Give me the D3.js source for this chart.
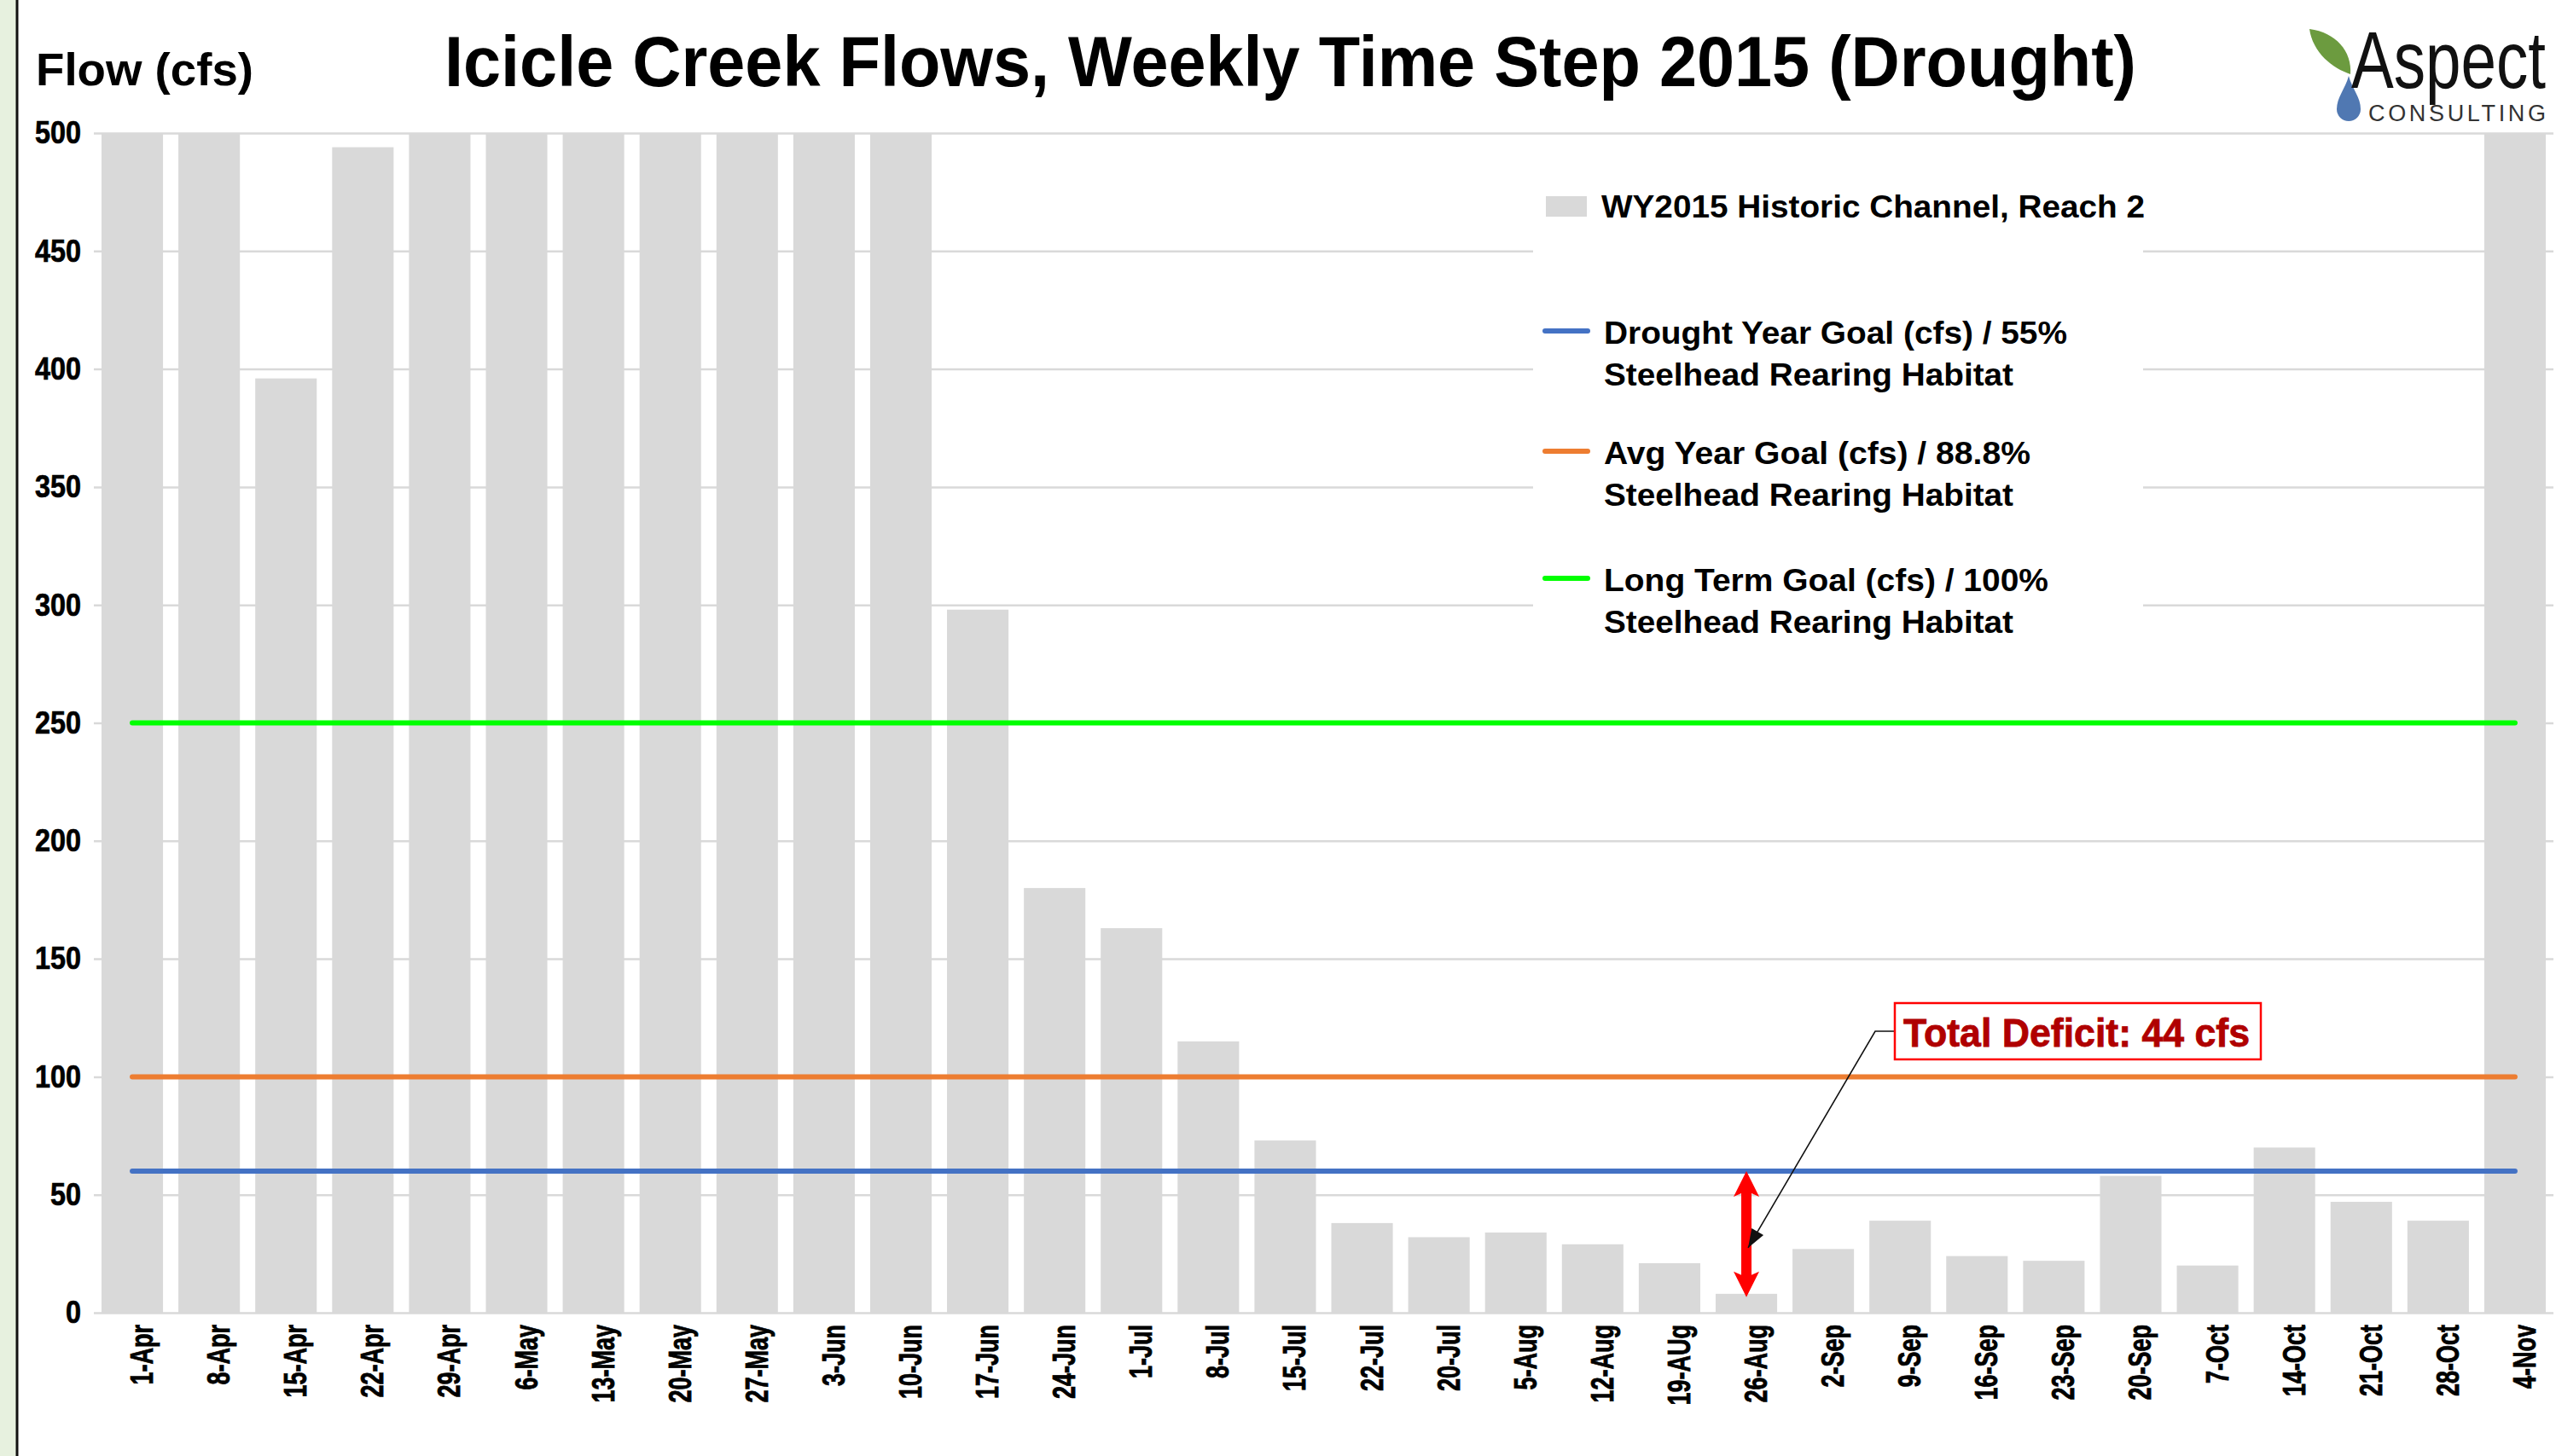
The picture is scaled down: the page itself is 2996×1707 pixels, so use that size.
<!DOCTYPE html>
<html>
<head>
<meta charset="utf-8">
<script src="https://cdn.jsdelivr.net/npm/d3@7"></script>
<style>
  html, body { margin: 0; padding: 0; background: #fff; }
  svg { display: block; }
  text { font-family: "Liberation Sans", Arial, sans-serif; }
</style>
</head>
<body>
<div id="chart"></div>
<script>
/* Icicle Creek weekly flows, WY2015 drought */

const width = 2996,
    height = 1707,
    margin = ({ top: 156, right: 3, bottom: 168, left: 110 });

/* week labels, as printed on the chart */
const weeks = ["1-Apr", "8-Apr", "15-Apr", "22-Apr", "29-Apr", "6-May", "13-May", "20-May",
    "27-May", "3-Jun", "10-Jun", "17-Jun", "24-Jun", "1-Jul", "8-Jul", "15-Jul",
    "22-Jul", "20-Jul", "5-Aug", "12-Aug", "19-AUg", "26-Aug", "2-Sep", "9-Sep",
    "16-Sep", "23-Sep", "20-Sep", "7-Oct", "14-Oct", "21-Oct", "28-Oct", "4-Nov"];

/* weekly flow (cfs) - bars that run off the top of the chart are kept at 500 */
const flows = [500, 500, 396, 494, 500, 500, 500, 500,
    500, 500, 500, 298, 180, 163, 115, 73,
    38, 32, 34, 29, 21, 8, 27, 39,
    24, 22, 58, 20, 70, 47, 39, 500];

/* goal lines (cfs) */
const goalValues = [60, 100, 250];
const goalLabels = [
    ["Drought Year Goal (cfs) / 55%", "Steelhead Rearing Habitat"],
    ["Avg Year Goal (cfs) / 88.8%", "Steelhead Rearing Habitat"],
    ["Long Term Goal (cfs) / 100%", "Steelhead Rearing Habitat"]
];
const barLabel = "WY2015 Historic Channel, Reach 2";

/* y tick labels */
const yTicks = [0, 50, 100, 150, 200, 250, 300, 350, 400, 450, 500];

/* deficit callout week */
const deficitWeek = "26-Aug";
const deficitText = "Total Deficit: 44 cfs";

/* colours */
const goalColors = ["#4472c4", "#ed7d31", "#00ff00"];
const barColor = "#d9d9d9";

const svg = d3.select("#chart")
    .append("svg")
    .attr("width", width)
    .attr("height", height)
    .attr("viewBox", [0, 0, width, height]);

svg.append("rect").attr("width", width).attr("height", height).attr("fill", "#fff");

/* green slide edge + black rule on the left */
svg.append("rect").attr("x", 0).attr("y", 0).attr("width", 19).attr("height", height).attr("fill", "#e7f1df");
svg.append("line").attr("x1", 20).attr("x2", 20).attr("y1", 0).attr("y2", height)
    .attr("stroke", "#111").attr("stroke-width", 3);

let x = d3.scaleBand()
    .domain(weeks)
    .range([margin.left, width - margin.right])
    .paddingInner(0.2)
    .paddingOuter(0.1);

let y = d3.scaleLinear()
    .domain([0, 500])
    .range([height - margin.bottom, margin.top])
    .clamp(true);

/* gridlines + y labels */
svg.append("g")
    .attr("class", "y-axis")
    .attr("transform", `translate(${margin.left},0)`)
    .call(d3.axisLeft(y).tickValues(yTicks).tickSize(-(width - margin.right - margin.left)).tickPadding(15))
    .call(g => g.select(".domain").remove())
    .call(g => g.selectAll(".tick line").attr("stroke", "#d9d9d9").attr("stroke-width", 2.5))
    .call(g => g.selectAll(".tick text")
        .attr("font-size", 37)
        .attr("font-weight", "bold")
        .attr("fill", "#000")
        .attr("stroke", "#000").attr("stroke-width", 0.7)
        .attr("textLength", d => String(d).length * 18)
        .attr("lengthAdjust", "spacingAndGlyphs"));

/* legend background knocks out the gridlines */
svg.append("rect")
    .attr("x", 1797).attr("y", 185)
    .attr("width", 715).attr("height", 590)
    .attr("fill", "#fff");

/* bars */
svg.append("g")
    .selectAll("rect")
    .data(weeks)
    .join("rect")
    .attr("x", d => x(d))
    .attr("width", x.bandwidth())
    .attr("y", (d, i) => y(flows[i]))
    .attr("height", (d, i) => y(0) - y(flows[i]))
    .attr("fill", barColor);

/* x labels */
svg.append("g")
    .attr("transform", `translate(0,${height - margin.bottom})`)
    .call(d3.axisBottom(x).tickSize(0).tickSizeOuter(0))
    .call(g => g.select(".domain").remove())
    .call(g => g.selectAll(".tick text")
        .attr("x", 0).attr("y", 0).attr("dy", 0)
        .attr("text-anchor", "end")
        .attr("transform", "translate(24,14) scale(1.4,1) rotate(-90)")
        .attr("font-size", 27)
        .attr("font-weight", "bold")
        .attr("fill", "#000")
        .attr("stroke", "#000").attr("stroke-width", 0.6));

/* goal lines run from first to last week centre */
goalValues.forEach((v, i) => {
    svg.append("path")
        .datum([weeks[0], weeks[weeks.length - 1]])
        .attr("d", d3.line()
            .x(d => x(d) + x.bandwidth() / 2)
            .y(() => y(v)))
        .attr("fill", "none")
        .attr("stroke", goalColors[i])
        .attr("stroke-width", 6)
        .attr("stroke-linecap", "round");
});

/* legend */
const legend = svg.append("g").attr("class", "legend")
    .attr("font-family", "'Open Sans', 'Liberation Sans', sans-serif")
    .attr("font-weight", 600)
    .attr("fill", "#000");
legend.append("rect")
    .attr("x", 1812).attr("y", 230).attr("width", 48).attr("height", 24)
    .attr("fill", barColor);
legend.append("text")
    .attr("x", 1877).attr("y", 255)
    .attr("font-size", 37)
    .attr("textLength", 637).attr("lengthAdjust", "spacingAndGlyphs")
    .text(barLabel);

const legendY = [388, 529, 678];
const legendW = [[543, 480], [500, 480], [521, 480]];
goalLabels.forEach((lines, i) => {
    legend.append("line")
        .attr("x1", 1811).attr("x2", 1861)
        .attr("y1", legendY[i]).attr("y2", legendY[i])
        .attr("stroke", goalColors[i]).attr("stroke-width", 6)
        .attr("stroke-linecap", "round");
    lines.forEach((t, j) => {
        legend.append("text")
            .attr("x", 1880).attr("y", legendY[i] + 15 + j * 49)
            .attr("font-size", 37)
            .attr("textLength", legendW[i][j]).attr("lengthAdjust", "spacingAndGlyphs")
            .text(t);
    });
});

/* red deficit arrow: drought goal down to the week's flow */
const di = weeks.indexOf(deficitWeek);
const ax = x(deficitWeek) + x.bandwidth() / 2;
const aTop = y(goalValues[0]);
const aBot = y(flows[di]) + 4;
const headL = 30, headW = 15, shaft = 6;
svg.append("path")
    .attr("d", `M${ax},${aTop} L${ax + headW},${aTop + headL} L${ax + shaft},${aTop + headL - 4}
        L${ax + shaft},${aBot - headL + 4} L${ax + headW},${aBot - headL} L${ax},${aBot}
        L${ax - headW},${aBot - headL} L${ax - shaft},${aBot - headL + 4}
        L${ax - shaft},${aTop + headL - 4} L${ax - headW},${aTop + headL} Z`)
    .attr("fill", "#ff0000");

/* callout box */
const box = { x: 2221, y: 1176, w: 429, h: 66 };
const tip = [ax + 2, (aTop + aBot) / 2 + 16];
const elbow = [box.x - 23, box.y + 33];
svg.append("path")
    .attr("d", `M${box.x},${elbow[1]} L${elbow[0]},${elbow[1]} L${tip[0]},${tip[1]}`)
    .attr("fill", "none")
    .attr("stroke", "#111")
    .attr("stroke-width", 1.6);
const ang = Math.atan2(tip[1] - elbow[1], tip[0] - elbow[0]);
const hl = 22, hw = 8;
const bx = tip[0] - hl * Math.cos(ang), by = tip[1] - hl * Math.sin(ang);
svg.append("path")
    .attr("d", `M${tip[0]},${tip[1]} L${bx + hw * Math.sin(ang)},${by - hw * Math.cos(ang)} L${bx - hw * Math.sin(ang)},${by + hw * Math.cos(ang)} Z`)
    .attr("fill", "#111");

svg.append("rect")
    .attr("x", box.x).attr("y", box.y).attr("width", box.w).attr("height", box.h)
    .attr("fill", "#fff").attr("stroke", "#ff0000").attr("stroke-width", 2.5);
svg.append("text")
    .attr("x", box.x + 10).attr("y", box.y + 51)
    .attr("font-size", 46).attr("font-weight", "bold")
    .attr("fill", "#b00000")
    .attr("stroke", "#b00000").attr("stroke-width", 0.8)
    .attr("textLength", 406).attr("lengthAdjust", "spacingAndGlyphs")
    .text(deficitText);

/* titles */
svg.append("text")
    .attr("x", 521).attr("y", 101)
    .attr("font-size", 83).attr("font-weight", "bold")
    .attr("textLength", 1983).attr("lengthAdjust", "spacingAndGlyphs")
    .text("Icicle Creek Flows, Weekly Time Step 2015 (Drought)");

svg.append("text")
    .attr("class", "y-label")
    .attr("x", 42).attr("y", 100)
    .attr("font-family", "'Open Sans', 'Liberation Sans', sans-serif")
    .attr("font-weight", 600)
    .attr("font-size", 54)
    .attr("textLength", 255).attr("lengthAdjust", "spacingAndGlyphs")
    .text("Flow (cfs)");

/* logo */
const logo = svg.append("g").attr("class", "logo");
logo.append("path")
    .attr("d", "M2707,34 C2738,38 2757,60 2755,87 C2734,80 2711,62 2707,34 Z")
    .attr("fill", "#6c9b3f");
logo.append("path")
    .attr("d", "M2753,89 C2749,104 2739,114 2739,128 A14,14 0 0 0 2767,128 C2767,114 2757,104 2753,89 Z")
    .attr("fill", "#5078b2");
logo.append("text")
    .attr("transform", "translate(2756,103) scale(1,1.28)")
    .attr("font-family", "Lato, 'Open Sans', sans-serif")
    .attr("font-weight", 500)
    .attr("font-size", 74)
    .attr("fill", "#111")
    .attr("textLength", 228).attr("lengthAdjust", "spacingAndGlyphs")
    .text("Aspect");
logo.append("text")
    .attr("x", 2776).attr("y", 142)
    .attr("font-family", "Lato, 'Open Sans', sans-serif")
    .attr("font-size", 27)
    .attr("fill", "#333")
    .attr("textLength", 208).attr("lengthAdjust", "spacing")
    .text("CONSULTING");
</script>
</body>
</html>
